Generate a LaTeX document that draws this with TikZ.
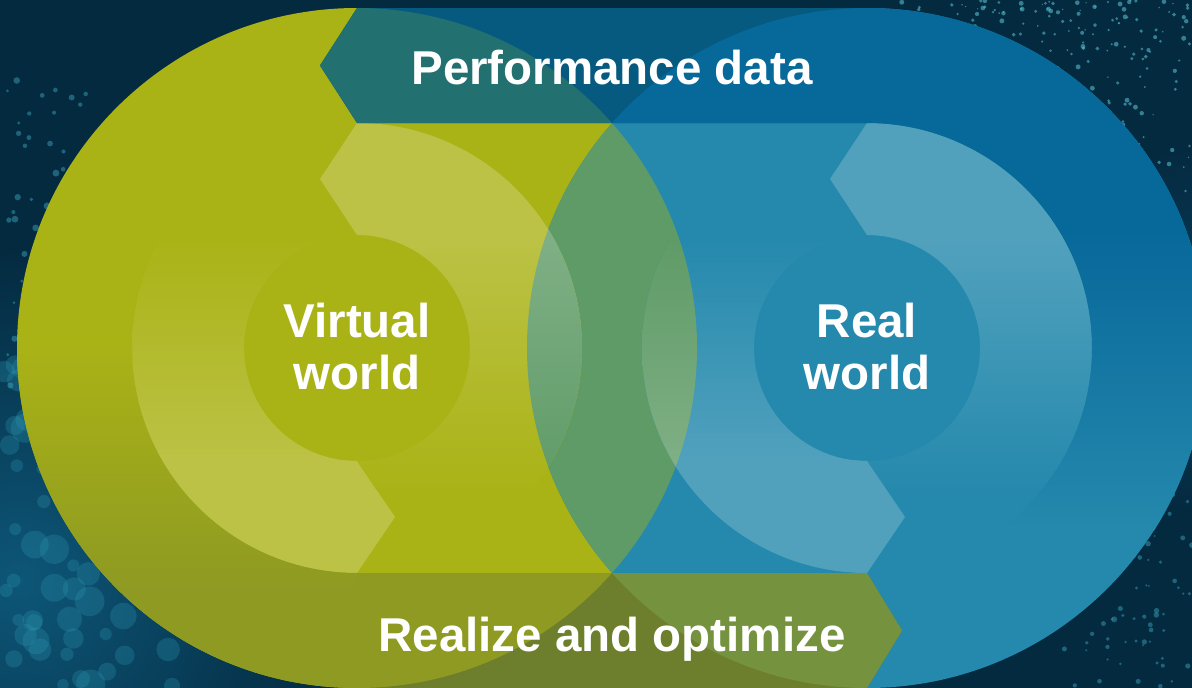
\documentclass[tikz,border=0pt]{standalone}
\usepackage{fontspec}
\setmainfont{Liberation Sans}
\definecolor{bgc}{HTML}{042A40}
\definecolor{bgleft}{HTML}{0D5677}
\definecolor{bgright}{HTML}{0A3D5B}
\definecolor{bk1}{HTML}{2A93AE}
\definecolor{bk2}{HTML}{3FA9C2}
\definecolor{bk3}{HTML}{5CC6D6}
\definecolor{ol}{HTML}{AAB316}
\definecolor{bl}{HTML}{2589AD}
\definecolor{lz}{HTML}{5F9B67}
\definecolor{oll}{HTML}{BBC245}
\definecolor{bll}{HTML}{51A1BD}
\definecolor{lzl}{HTML}{7FAF85}
\definecolor{tO}{HTML}{237070}
\definecolor{tB}{HTML}{07689A}
\definecolor{tG}{HTML}{065A80}
\definecolor{bO}{HTML}{8E9A22}
\definecolor{bB}{HTML}{75923F}
\definecolor{bG}{HTML}{6D7F2C}
\def\Lcirc{(357,-348) circle[radius=340]}
\def\Rcirc{(867,-348) circle[radius=340]}
\def\LringR{(320,-179) -- (357,-123) arc[start angle=90,end angle=-90,radius=225] -- (395,-517) -- (357,-461) arc[start angle=-90,end angle=90,radius=113] -- cycle}
\def\LringL{(320,-179) -- (357,-123) arc[start angle=90,end angle=270,radius=225] -- (395,-517) -- (357,-461) arc[start angle=270,end angle=90,radius=113] -- cycle}
\def\RringR{(830,-179) -- (867,-123) arc[start angle=90,end angle=-90,radius=225] -- (905,-517) -- (867,-461) arc[start angle=-90,end angle=90,radius=113] -- cycle}
\def\RringL{(830,-179) -- (867,-123) arc[start angle=90,end angle=270,radius=225] -- (905,-517) -- (867,-461) arc[start angle=270,end angle=90,radius=113] -- cycle}
\def\Tband{(320,-65.5) -- (357,-8) -- (867,-8) -- (867,-123) -- (357,-123) -- cycle}
\def\Tarc{(867,-8) arc[start angle=90,end angle=-90,radius=340] -- (867,-573) arc[start angle=-90,end angle=90,radius=225] -- cycle}
\def\Bband{(357,-573) -- (867,-573) -- (902,-630.5) -- (867,-688) -- (357,-688) -- cycle}
\def\Barc{(357,-8) arc[start angle=90,end angle=270,radius=340] -- (357,-688) -- (357,-573) arc[start angle=270,end angle=90,radius=225] -- cycle}
\begin{document}
\begin{tikzpicture}[x=1pt,y=1pt,
  lbl/.style={text=white, font=\bfseries\fontsize{47.5}{52}\selectfont, inner sep=0pt}]
\useasboundingbox (0,0) rectangle (1192,-688);
% background
\fill[bgc] (0,0) rectangle (1192,-688);
\shade[inner color=bgleft, outer color=bgc] (20,-580) circle[radius=330];
\shade[inner color=bgright, outer color=bgc] (1192,-330) circle[radius=180];
\pgfmathsetseed{42}
\foreach \i in {1,...,80}{
  \pgfmathsetmacro{\bx}{rnd*175}
  \pgfmathsetmacro{\by}{-360-rnd*330}
  \pgfmathsetmacro{\br}{5+rnd*10}
  \fill[bk1, opacity=0.3] (\bx,\by) circle[radius=\br];
}
\foreach \i in {1,...,60}{
  \pgfmathsetmacro{\bx}{rnd*120}
  \pgfmathsetmacro{\by}{-80-rnd*320}
  \pgfmathsetmacro{\br}{1+rnd*2.5}
  \fill[bk2, opacity=0.45] (\bx,\by) circle[radius=\br];
}
\foreach \i in {1,...,260}{
  \pgfmathsetmacro{\bx}{900+rnd*292}
  \pgfmathsetmacro{\by}{-rnd*rnd*360}
  \pgfmathsetmacro{\br}{0.7+rnd*1.8}
  \fill[bk3, opacity=0.55] (\bx,\by) circle[radius=\br];
}
\foreach \i in {1,...,70}{
  \pgfmathsetmacro{\bx}{1060+rnd*132}
  \pgfmathsetmacro{\by}{-470-rnd*218}
  \pgfmathsetmacro{\br}{1+rnd*2}
  \fill[bk2, opacity=0.45] (\bx,\by) circle[radius=\br];
}
% circles and lens
\fill[ol] \Lcirc;
\fill[bl] \Rcirc;
\begin{scope}\clip \Lcirc; \fill[lz] \Rcirc; \end{scope}
% left light ring
\begin{scope}\clip \LringL;
  \shade[top color=ol, bottom color=oll] (0,-240) rectangle (1192,-460);
  \fill[oll] (0,-460) rectangle (1192,-700);
\end{scope}
\begin{scope}\clip \LringR;
  \fill[oll] (0,10) rectangle (1192,-240);
  \shade[top color=oll, bottom color=ol] (0,-240) rectangle (1192,-490);
  \clip \Rcirc;
  \fill[lzl] (0,10) rectangle (1192,-240);
  \shade[top color=lzl, bottom color=lz] (0,-240) rectangle (1192,-490);
\end{scope}
% right light ring
\begin{scope}\clip \RringR;
  \fill[bll] (0,10) rectangle (1192,-240);
  \shade[top color=bll, bottom color=bl] (0,-240) rectangle (1192,-490);
\end{scope}
\begin{scope}\clip \RringL;
  \shade[top color=bl, bottom color=bll] (0,-240) rectangle (1192,-460);
  \fill[bll] (0,-460) rectangle (1192,-700);
  \clip \Lcirc;
  \shade[top color=lz, bottom color=lzl] (0,-240) rectangle (1192,-460);
  \fill[lzl] (0,-460) rectangle (1192,-700);
\end{scope}
% top arrow band
\begin{scope}\clip \Tband;
  \fill[tG] (0,10) rectangle (1192,-130);
  \fill[tO] \Lcirc;
  \fill[tB] \Rcirc;
\end{scope}
\begin{scope}\clip \Tarc;
  \fill[tB] (0,10) rectangle (1192,-230);
  \shade[top color=tB, bottom color=bl] (0,-230) rectangle (1192,-530);
\end{scope}
% bottom arrow band
\begin{scope}\clip \Bband;
  \fill[bG] (0,-560) rectangle (1192,-700);
  \fill[bO] \Lcirc;
  \fill[bB] \Rcirc;
\end{scope}
\begin{scope}\clip \Barc;
  \shade[top color=ol, bottom color=bO] (0,-340) rectangle (1192,-590);
  \fill[bO] (0,-590) rectangle (1192,-700);
\end{scope}
% labels
\node[lbl, anchor=base] (perf) at (612,-84) {Performance data};
\node[lbl, anchor=base] (realize) at (612,-651) {Realize and optimize};
\node[lbl, align=center] (virt) at (357,-347) {Virtual\\world};
\node[lbl, align=center] (realw) at (867,-347) {Real\\world};
\end{tikzpicture}
\end{document}
